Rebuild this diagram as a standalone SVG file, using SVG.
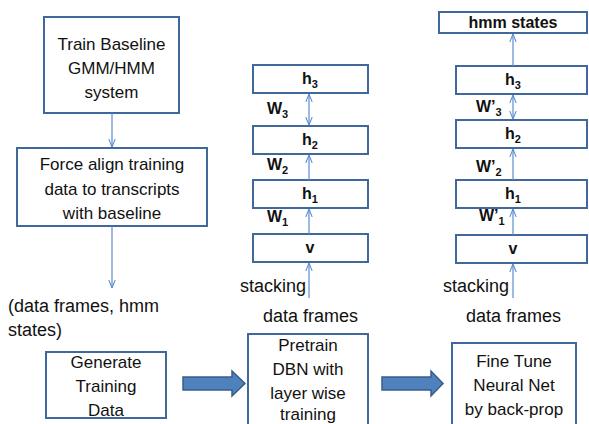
<svg xmlns="http://www.w3.org/2000/svg" width="589" height="424" viewBox="0 0 589 424">
<defs>
<style>
.box{fill:#fff;stroke:#41689a;stroke-width:2}
.t{font-family:"Liberation Sans",Arial,sans-serif;font-size:17px;fill:#111}
.l{font-size:18px}
.c{text-anchor:middle}
.b{font-family:"Liberation Sans",Arial,sans-serif;font-size:16px;font-weight:bold;fill:#111}
.ln{stroke:#5b8cd1;stroke-width:1.2;fill:none}
.blk{fill:#4f81bd;stroke:#385d8a;stroke-width:1.5}
</style>
<marker id="ah" viewBox="0 0 10 10" refX="10" refY="5" markerWidth="8" markerHeight="8" orient="auto-start-reverse" markerUnits="userSpaceOnUse">
<polyline points="0,1 10,5 0,9" fill="none" stroke="#5b8cd1" stroke-width="1.3"/>
</marker>
</defs>
<rect width="589" height="424" fill="#fff"/>

<g id="train-baseline">
<rect class="box" x="44" y="17" width="135" height="96"/>
<text class="t c" x="111.5" y="50">Train Baseline</text>
<text class="t c" x="111.5" y="74">GMM/HMM</text>
<text class="t c" x="111.5" y="98">system</text>
</g>
<g id="force-align">
<rect class="box" x="17" y="148" width="190" height="78"/>
<text class="t c" x="112" y="170">Force align training</text>
<text class="t c" x="112" y="195">data to transcripts</text>
<text class="t c" x="112" y="219">with baseline</text>
</g>
<g id="data-label">
<text class="t l" x="8" y="312">(data frames, hmm</text>
<text class="t l" x="8" y="336">states)</text>
</g>
<g id="generate">
<rect class="box" x="46" y="352" width="120" height="66"/>
<text class="t c" x="106" y="368">Generate</text>
<text class="t c" x="106" y="392">Training</text>
<text class="t c" x="106" y="416">Data</text>
</g>
<g id="pretrain">
<rect class="box" x="248" y="334" width="120" height="100"/>
<text class="t c" x="308" y="351">Pretrain</text>
<text class="t c" x="308" y="375">DBN with</text>
<text class="t c" x="308" y="399">layer wise</text>
<text class="t c" x="308" y="420">training</text>
</g>
<g id="finetune">
<rect class="box" x="452" y="343" width="124" height="90"/>
<text class="t c" x="514" y="367">Fine Tune</text>
<text class="t c" x="514" y="391">Neural Net</text>
<text class="t c" x="514" y="415">by back-prop</text>
</g>

<g id="dbn-stack">
<g id="m-h3"><rect class="box" x="253" y="65" width="115" height="28"/><text class="b c" x="310" y="84">h<tspan font-size="11" dy="4">3</tspan></text></g>
<g id="m-h2"><rect class="box" x="253" y="126" width="115" height="28"/><text class="b c" x="310" y="145">h<tspan font-size="11" dy="4">2</tspan></text></g>
<g id="m-h1"><rect class="box" x="253" y="180" width="115" height="28"/><text class="b c" x="310" y="199">h<tspan font-size="11" dy="4">1</tspan></text></g>
<g id="m-v"><rect class="box" x="253" y="234" width="115" height="28"/><text class="b c" x="310" y="253">v</text></g>
<text class="b" x="267" y="114">W<tspan font-size="11" dy="4">3</tspan></text>
<text class="b" x="267" y="170">W<tspan font-size="11" dy="4">2</tspan></text>
<text class="b" x="267" y="222">W<tspan font-size="11" dy="4">1</tspan></text>
<text class="t l" x="240" y="292">stacking</text>
<text class="t l" x="263" y="322">data frames</text>
</g>

<g id="nn-stack">
<g id="r-hmm"><rect class="box" x="439" y="12" width="148" height="21"/><text class="b c" x="513" y="28">hmm states</text></g>
<g id="r-h3"><rect class="box" x="456" y="66" width="131" height="28"/><text class="b c" x="513" y="85">h<tspan font-size="11" dy="4">3</tspan></text></g>
<g id="r-h2"><rect class="box" x="456" y="120" width="131" height="28"/><text class="b c" x="513" y="139">h<tspan font-size="11" dy="4">2</tspan></text></g>
<g id="r-h1"><rect class="box" x="456" y="180" width="131" height="28"/><text class="b c" x="513" y="199">h<tspan font-size="11" dy="4">1</tspan></text></g>
<g id="r-v"><rect class="box" x="456" y="235" width="131" height="28"/><text class="b c" x="513" y="254">v</text></g>
<text class="b" x="476" y="112">W’<tspan font-size="11" dy="4">3</tspan></text>
<text class="b" x="476" y="172">W’<tspan font-size="11" dy="4">2</tspan></text>
<text class="b" x="479" y="221">W’<tspan font-size="11" dy="4">1</tspan></text>
<text class="t l" x="443" y="292">stacking</text>
<text class="t l" x="466" y="322">data frames</text>
</g>

<g id="connectors">
<line class="ln" x1="112" y1="113" x2="112" y2="147" marker-end="url(#ah)"/>
<line class="ln" x1="112" y1="226" x2="112" y2="288" marker-end="url(#ah)"/>
<line class="ln" x1="309" y1="298" x2="309" y2="263" marker-end="url(#ah)"/>
<line class="ln" x1="309" y1="234" x2="309" y2="209" marker-end="url(#ah)"/>
<line class="ln" x1="309" y1="180" x2="309" y2="155" marker-end="url(#ah)"/>
<line class="ln" x1="309" y1="125" x2="309" y2="94" marker-start="url(#ah)" marker-end="url(#ah)"/>
<line class="ln" x1="513" y1="298" x2="513" y2="264" marker-end="url(#ah)"/>
<line class="ln" x1="513" y1="235" x2="513" y2="209" marker-end="url(#ah)"/>
<line class="ln" x1="513" y1="180" x2="513" y2="149" marker-end="url(#ah)"/>
<line class="ln" x1="513" y1="119" x2="513" y2="95" marker-start="url(#ah)" marker-end="url(#ah)"/>
<line class="ln" x1="513" y1="66" x2="513" y2="34" marker-end="url(#ah)"/>
<polygon class="blk" points="183,377 232,377 232,371 245,383.5 232,396 232,390 183,390"/>
<polygon class="blk" points="382,377 431,377 431,371 443,383.5 431,396 431,390 382,390"/>
</g>
</svg>
